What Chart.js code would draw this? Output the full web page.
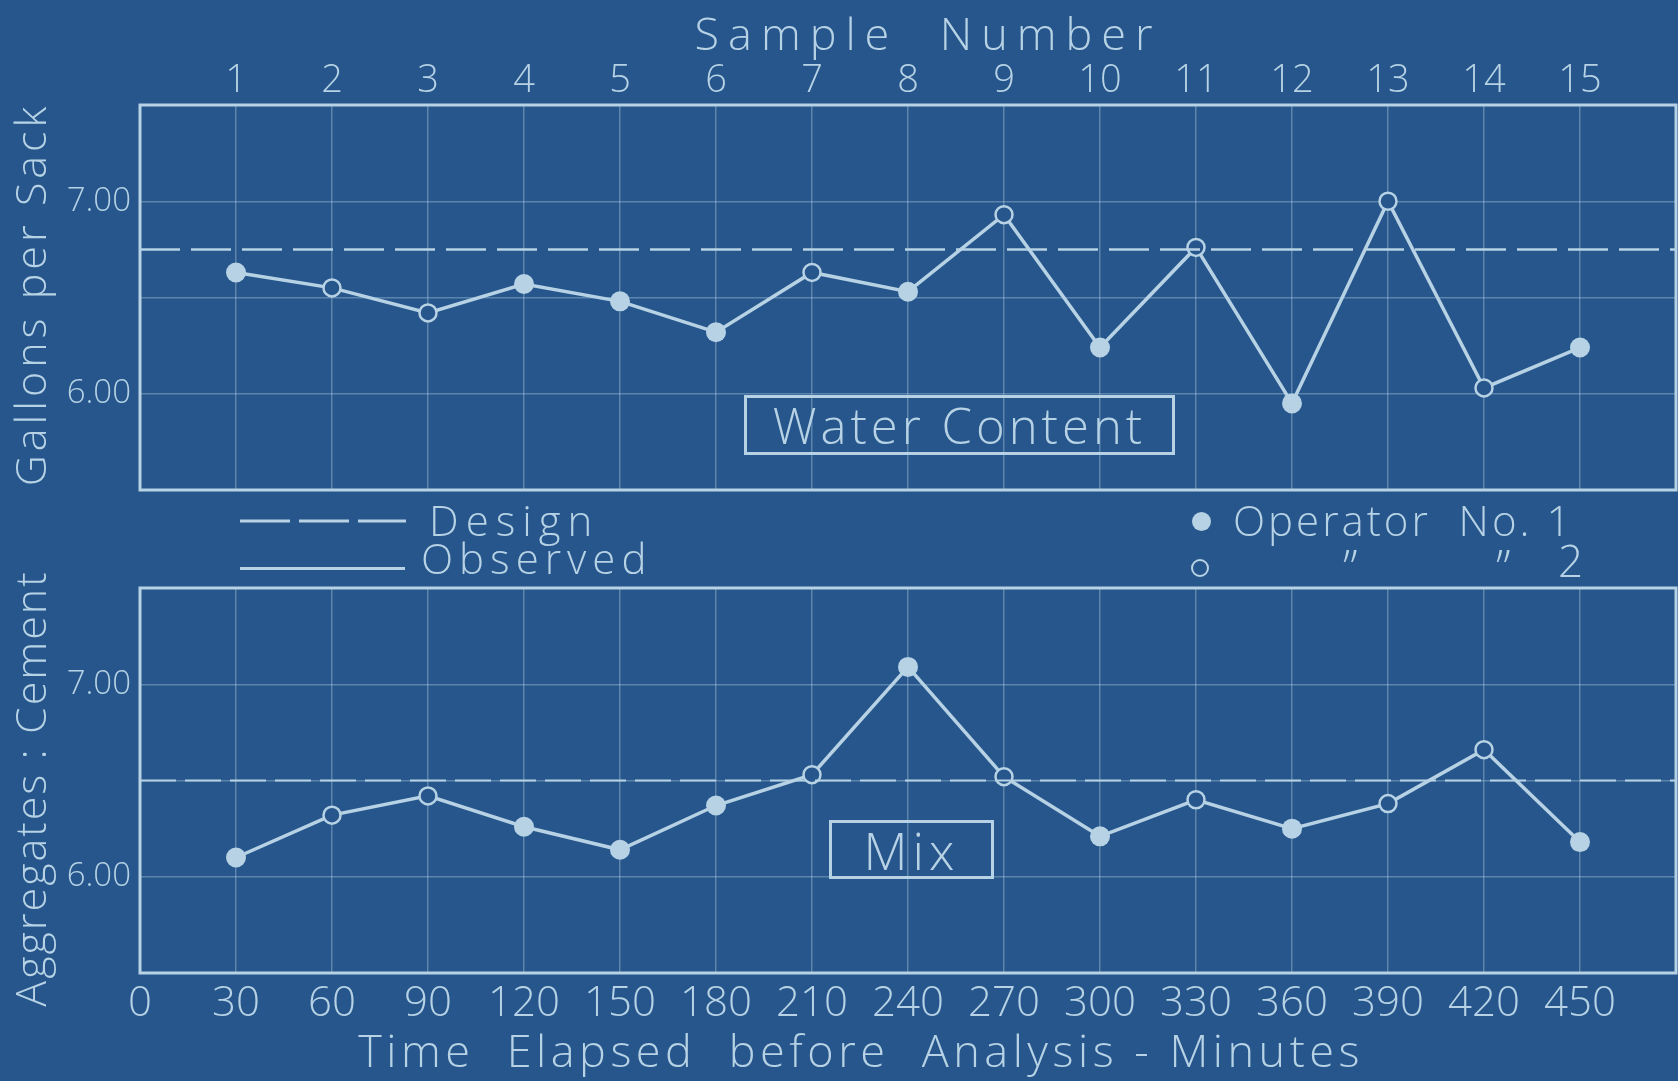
<!DOCTYPE html>
<html>
<head>
<meta charset="utf-8">
<script src="https://cdn.jsdelivr.net/npm/chart.js@4.4.1/dist/chart.umd.min.js"></script>
<style>
  html, body { margin: 0; padding: 0; }
  body {
    width: 1678px; height: 1081px; position: relative; overflow: hidden;
    background: #26568c; color: #b6d2e4;
    font-family: 'Open Sans', 'DejaVu Sans', sans-serif; font-weight: 300;
  }
  canvas { position: absolute; left: 0; }
  #topChart { top: 0; }
  #bottomChart { top: 540px; }
  .txt { position: absolute; white-space: pre; line-height: 1.2; transform: translateY(-50%); }
  .box { position: absolute; border: 3px solid #b6d2e4; box-sizing: border-box;
         display: flex; align-items: center; justify-content: center; white-space: pre; }
  .dot { position: absolute; border-radius: 50%; box-sizing: border-box; }
</style>
</head>
<body>
<canvas id="topChart" width="1678" height="495"></canvas>
<canvas id="bottomChart" width="1678" height="541"></canvas>

<!-- legend between the panels -->
<svg style="position:absolute;left:240px;top:519px" width="166" height="4">
  <line x1="0" y1="2" x2="166" y2="2" stroke="#b6d2e4" stroke-width="3" stroke-dasharray="50 9"></line>
</svg>
<div class="txt" style="left:429px;top:520px;font-size:42px;letter-spacing:7px">Design</div>
<div style="position:absolute;left:240px;top:567px;width:165px;height:3px;background:#b6d2e4"></div>
<div class="txt" style="left:421px;top:558px;font-size:42px;letter-spacing:6px">Observed</div>

<div class="dot" style="left:1192px;top:512px;width:19px;height:19px;background:#b6d2e4"></div>
<div class="txt" style="left:1233px;top:520px;font-size:42px;letter-spacing:3px">Operator  No. 1</div>
<div class="dot" style="left:1191px;top:559px;width:18px;height:18px;border:2.5px solid #b6d2e4"></div>
<div class="txt" style="left:1343px;top:566px;font-size:48px">”</div>
<div class="txt" style="left:1496px;top:566px;font-size:48px">”</div>
<div class="txt" style="left:1558px;top:560px;font-size:44px">2</div>

<!-- panel labels -->
<div class="box" style="left:744px;top:395px;width:431px;height:60px;font-size:49px;letter-spacing:4px">Water Content</div>
<div class="box" style="left:829px;top:820px;width:165px;height:59px;font-size:51px;letter-spacing:5px">Mix</div>

<script>
// sample number / minutes elapsed
const minutes = [30, 60, 90, 120, 150, 180, 210, 240, 270, 300, 330, 360, 390, 420, 450];
const sampleNumbers = [1, 2, 3, 4, 5, 6, 7, 8, 9, 10, 11, 12, 13, 14, 15];
const timeTicks = [0, 30, 60, 90, 120, 150, 180, 210, 240, 270, 300, 330, 360, 390, 420, 450];
const yTickValues = [6, 7];
// 1 = operator No. 1 (filled dot), 2 = operator No. 2 (open circle)
const operator = [1, 2, 2, 1, 1, 1, 2, 1, 2, 1, 2, 1, 2, 2, 1];

// gallons per sack
const waterContent = [6.63, 6.55, 6.42, 6.57, 6.48, 6.32, 6.63, 6.53, 6.93, 6.24, 6.76, 5.95, 7.00, 6.03, 6.24];
const waterDesign = 6.75;
// aggregates : cement
const mixRatio = [6.10, 6.32, 6.42, 6.26, 6.14, 6.37, 6.53, 7.09, 6.52, 6.21, 6.40, 6.25, 6.38, 6.66, 6.18];
const mixDesign = 6.5;

const ink = '#b6d2e4';
const paper = '#26568c';
const gridInk = 'rgba(182, 210, 228, 0.38)';
const fontFamily = "'Open Sans', 'DejaVu Sans', sans-serif";

// frame around the plot area
const frame = {
    id: 'frame',
    beforeDatasetsDraw(chart) {
        const { ctx, chartArea: a } = chart;
        ctx.save();
        ctx.strokeStyle = ink;
        ctx.lineWidth = 3;
        ctx.strokeRect(a.left, a.top, a.right - a.left, a.bottom - a.top);
        ctx.restore();
    }
};

// wide hand lettering for the axis titles
const spacedTitles = {
    id: 'spacedTitles',
    beforeDraw(chart, args, options) {
        Object.values(chart.scales).forEach(scale => {
            if (scale.spaced) return;
            const drawTitle = scale.drawTitle;
            const opt = options[scale.id] || {};
            scale.drawTitle = function () {
                const ctx = this.ctx;
                ctx.save();
                ctx.letterSpacing = opt.spacing || '0px';
                if (this.isHorizontal()) ctx.translate(opt.shift || 0, 0);
                else ctx.translate(0, opt.shift || 0);
                drawTitle.call(this);
                ctx.restore();
            };
            scale.spaced = true;
        });
    }
};

function makePanel(id, values, design, cfg) {
    return new Chart(document.getElementById(id), {
        type: 'line',
        data: {
            datasets: [{
                label: 'Design',
                data: [{ x: 0, y: design }, { x: 480, y: design }],
                borderColor: ink,
                borderWidth: cfg.dashWidth,
                borderDash: cfg.dash,
                pointRadius: 0
            }, {
                label: 'Observed',
                data: minutes.map((m, i) => ({ x: m, y: values[i] })),
                borderColor: ink,
                borderWidth: 3.5,
                pointRadius: operator.map(o => o === 1 ? 10 : 8.5),
                pointBackgroundColor: operator.map(o => o === 1 ? ink : paper),
                pointBorderColor: ink,
                pointBorderWidth: operator.map(o => o === 1 ? 0 : 2.5)
            }]
        },
        options: {
            responsive: false,
            animation: false,
            clip: false,
            layout: { padding: cfg.padding, autoPadding: false },
            plugins: {
                legend: { display: false },
                tooltip: { enabled: false },
                spacedTitles: cfg.titles
            },
            scales: {
                x: {
                    type: 'linear',
                    position: cfg.xPosition,
                    min: 0,
                    max: 480,
                    grid: { color: gridInk, lineWidth: 1.5, drawTicks: false },
                    border: { display: false },
                    ticks: {
                        stepSize: 30,
                        autoSkip: false,
                        maxRotation: 0,
                        padding: cfg.xTickPad,
                        color: ink,
                        font: { family: fontFamily, size: cfg.xTickSize, weight: '300' },
                        callback: cfg.xLabel
                    },
                    title: {
                        display: true,
                        text: cfg.xTitle,
                        color: ink,
                        font: { family: fontFamily, size: 45, weight: '300' },
                        padding: { top: cfg.xTitlePad, bottom: 0 }
                    },
                    afterFit(s) { s.height = cfg.xHeight; s.paddingLeft = 0; s.paddingRight = 0; }
                },
                y: {
                    min: 5.5,
                    max: 7.5,
                    grid: { color: gridInk, lineWidth: 1.5, drawTicks: false },
                    border: { display: false },
                    ticks: {
                        stepSize: 0.5,
                        padding: 9,
                        color: ink,
                        font: { family: fontFamily, size: 33, weight: '300' },
                        callback: v => yTickValues.includes(v) ? v.toFixed(2) : ''
                    },
                    title: {
                        display: true,
                        text: cfg.yTitle,
                        color: ink,
                        font: { family: fontFamily, size: 43, weight: '300' },
                        padding: { top: 8, bottom: 0 }
                    },
                    afterFit(s) { s.width = 140; s.paddingTop = 0; s.paddingBottom = 0; }
                }
            }
        },
        plugins: [frame, spacedTitles]
    });
}

// Water content, sample numbers along the top
makePanel('topChart', waterContent, waterDesign, {
    padding: { left: 0, right: 2, top: 0, bottom: 5 },
    xPosition: 'top',
    xHeight: 105,
    xTickPad: 1,
    xTickSize: 38,
    xTitle: 'Sample  Number',
    xTitlePad: 10,
    xLabel: v => { const i = minutes.indexOf(v); return i < 0 ? '' : sampleNumbers[i]; },
    yTitle: 'Gallons per Sack',
    dash: [40, 11],
    dashWidth: 2.5,
    titles: { x: { spacing: '9px', shift: 20 }, y: { spacing: '4px', shift: -3 } }
});

// Mix, minutes along the bottom
makePanel('bottomChart', mixRatio, mixDesign, {
    padding: { left: 0, right: 2, top: 48, bottom: 0 },
    xPosition: 'bottom',
    xHeight: 108,
    xTickPad: 6,
    xTickSize: 42,
    xTitle: 'Time  Elapsed  before  Analysis - Minutes',
    xTitlePad: 0,
    xLabel: v => timeTicks.includes(v) ? v : '',
    yTitle: 'Aggregates : Cement',
    dash: [36, 9],
    dashWidth: 2,
    titles: { x: { spacing: '4.5px', shift: -47 }, y: { spacing: '2px', shift: 8 } }
});
</script>
</body>
</html>
